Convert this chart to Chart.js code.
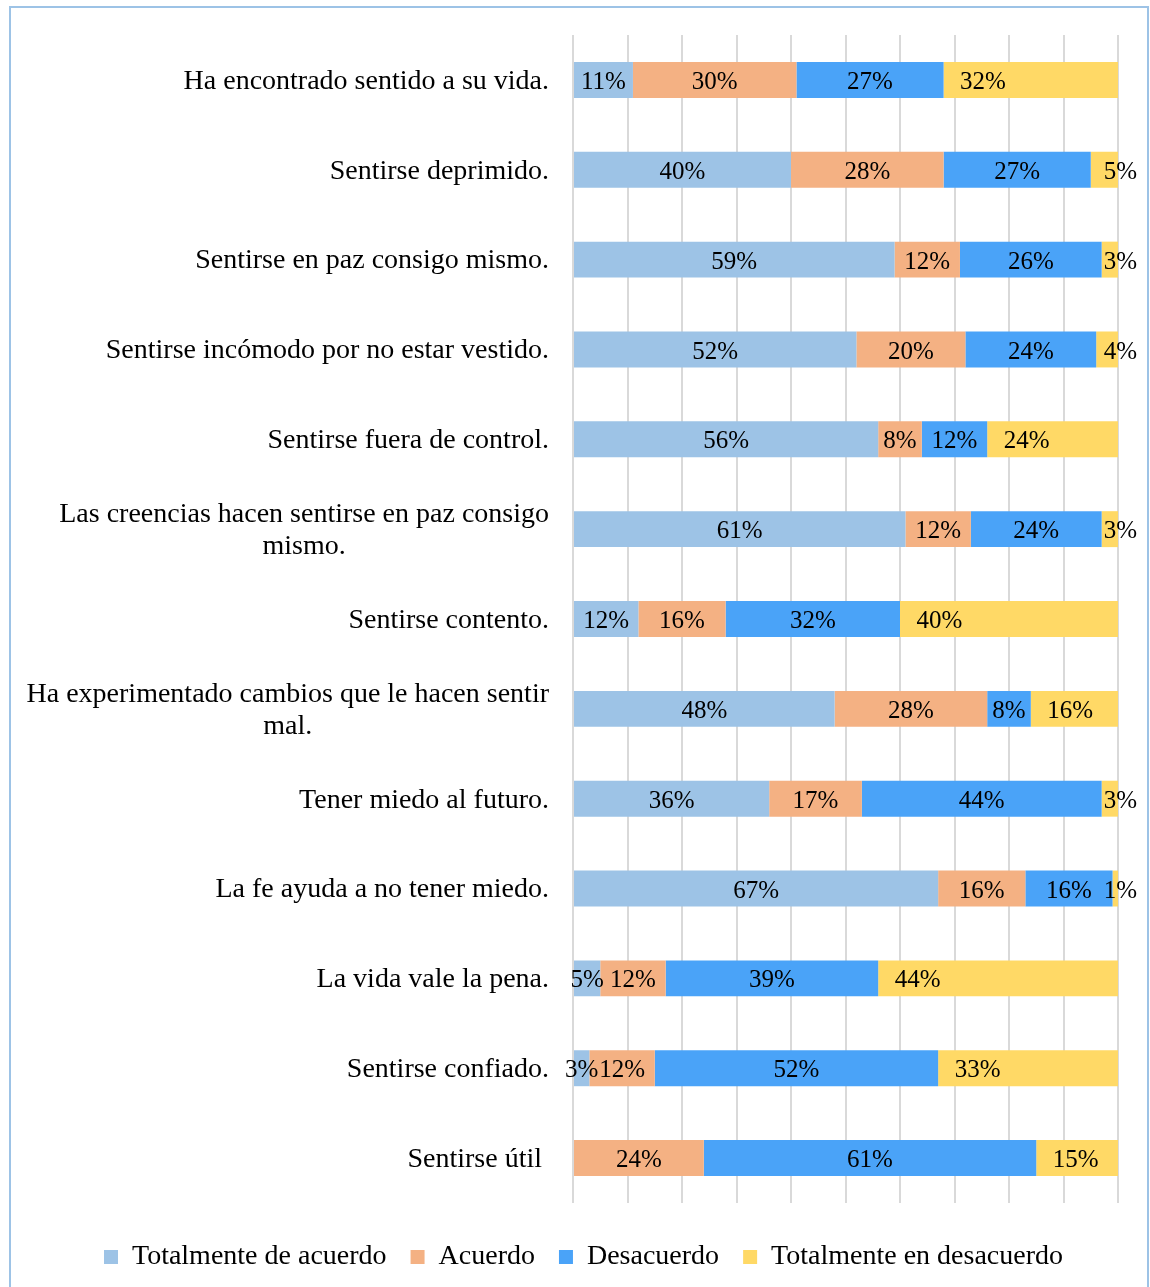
<!DOCTYPE html>
<html>
<head>
<meta charset="utf-8">
<script src="https://cdn.jsdelivr.net/npm/chart.js@4.4.0/dist/chart.umd.min.js"></script>
<style>
html,body{margin:0;padding:0;background:#fff;overflow:hidden;width:1150px;height:1287px;}
#c{position:absolute;left:0;top:0;}
#frame{position:absolute;left:9px;top:6px;width:1140px;height:1400px;border:2px solid #9DC3E6;box-sizing:border-box;pointer-events:none;}
</style>
</head>
<body>
<canvas id="c" width="1150" height="1281"></canvas>
<div id="frame"></div>
<script>
const categories = [
  "Ha encontrado sentido a su vida.",
  "Sentirse deprimido.",
  "Sentirse en paz consigo mismo.",
  "Sentirse incómodo por no estar vestido.",
  "Sentirse fuera de control.",
  ["Las creencias hacen sentirse en paz consigo", "mismo."],
  "Sentirse contento.",
  ["Ha experimentado cambios que le hacen sentir", "mal."],
  "Tener miedo al futuro.",
  "La fe ayuda a no tener miedo.",
  "La vida vale la pena.",
  "Sentirse confiado.",
  "Sentirse útil "
];
const seriesNames = ["Totalmente de acuerdo", "Acuerdo", "Desacuerdo", "Totalmente en desacuerdo"];
const totalmenteDeAcuerdo    = [11, 40, 59, 52, 56, 61, 12, 48, 36, 67,  5,  3,  0];
const acuerdo                = [30, 28, 12, 20,  8, 12, 16, 28, 17, 16, 12, 12, 24];
const desacuerdo             = [27, 27, 26, 24, 12, 24, 32,  8, 44, 16, 39, 52, 61];
const totalmenteEnDesacuerdo = [32,  5,  3,  4, 24,  3, 40, 16,  3,  1, 44, 33, 15];
const seriesColors = ["#9DC3E6", "#F4B183", "#4AA3F8", "#FFD966"];

const FONT = "'Liberation Serif', 'Times New Roman', serif";

const catLabelPlugin = {
  id: 'catLabels',
  afterDraw(chart) {
    const ctx = chart.ctx;
    const yScale = chart.scales.y;
    ctx.save();
    ctx.font = "28px " + FONT;
    ctx.fillStyle = '#000';
    ctx.textBaseline = 'middle';
    ctx.textAlign = 'center';
    const right = chart.chartArea.left - 24;
    const lh = 32.2;
    chart.data.labels.forEach((lab, i) => {
      const lines = Array.isArray(lab) ? lab : [lab];
      const w = Math.max(...lines.map(l => ctx.measureText(l).width));
      const cx = right - w / 2;
      const cy = yScale.getPixelForValue(i) + 1.5;
      lines.forEach((l, j) => ctx.fillText(l, cx, cy + (j - (lines.length - 1) / 2) * lh));
    });
    ctx.restore();
  }
};

const valueLabelPlugin = {
  id: 'valueLabels',
  afterDatasetsDraw(chart) {
    const ctx = chart.ctx;
    ctx.save();
    ctx.font = "25px " + FONT;
    ctx.fillStyle = '#000';
    ctx.textAlign = 'center';
    ctx.textBaseline = 'middle';
    const n = chart.data.datasets.length;
    chart.data.datasets.forEach((ds, di) => {
      const meta = chart.getDatasetMeta(di);
      meta.data.forEach((bar, i) => {
        const v = ds.data[i];
        if (!v) return;
        const txt = v + '%';
        const p = bar.getProps(['x', 'base', 'y'], true);
        const left = Math.min(p.x, p.base), right = Math.max(p.x, p.base);
        const tw = ctx.measureText(txt).width;
        let cx = (left + right) / 2;
        if (di === n - 1) cx = Math.min(left + 16.5 + tw / 2, right + 2.5);
        ctx.fillText(txt, cx, p.y + 2.5);
      });
    });
    ctx.restore();
  }
};

const seriesData = [totalmenteDeAcuerdo, acuerdo, desacuerdo, totalmenteEnDesacuerdo];

new Chart(document.getElementById('c'), {
  type: 'bar',
  data: {
    labels: categories,
    datasets: seriesNames.map((name, k) => ({
      label: name,
      data: seriesData[k],
      backgroundColor: seriesColors[k],
      borderWidth: 0
    }))
  },
  options: {
    indexAxis: 'y',
    responsive: false,
    animation: false,
    devicePixelRatio: 1,
    layout: { padding: { left: 49, right: 32, top: 35, bottom: 0 } },
    datasets: { bar: { barPercentage: 0.4, categoryPercentage: 1.0 } },
    scales: {
      x: {
        stacked: true, min: 0, max: 100,
        ticks: { display: false, stepSize: 10 },
        grid: { color: '#D9D9D9', lineWidth: 2, drawTicks: false },
        border: { display: false },
        afterFit(s) { s.height = 16; }
      },
      y: {
        stacked: true,
        ticks: { display: false },
        grid: { display: false, drawTicks: false },
        border: { display: false },
        afterFit(s) { s.width = 524; }
      }
    },
    plugins: {
      legend: {
        position: 'bottom',
        labels: {
          font: { family: FONT, size: 28 },
          color: '#000',
          boxWidth: 14,
          boxHeight: 14,
          padding: 24
        }
      },
      tooltip: { enabled: false }
    }
  },
  plugins: [catLabelPlugin, valueLabelPlugin]
});
</script>
</body>
</html>
